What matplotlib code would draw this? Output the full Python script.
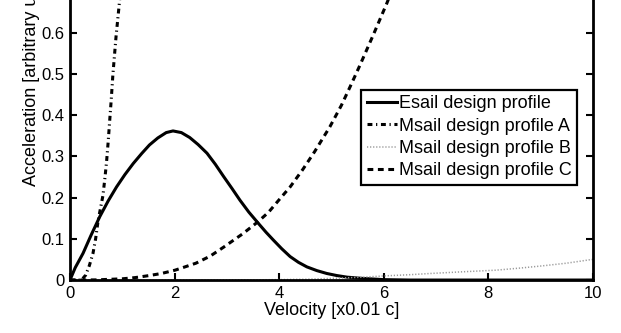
import numpy as np
import matplotlib.pyplot as plt

plt.rcParams["font.family"] = ["Liberation Sans", "DejaVu Sans"]

# velocity in units of 0.01 c, acceleration in arbitrary units
v_esail = [0.0, 0.1, 0.25, 0.4, 0.57, 0.73, 0.89, 1.05, 1.21, 1.37, 1.52,
           1.68, 1.84, 1.97, 2.13, 2.29, 2.45, 2.62, 2.78, 2.94, 3.10, 3.25,
           3.42, 3.60, 3.75, 3.89, 4.05, 4.21, 4.37, 4.53, 4.72, 4.91, 5.10,
           5.30, 5.60, 6.0, 6.5, 8.0, 10.0]
a_esail = [0.0, 0.03, 0.065, 0.108, 0.154, 0.192, 0.226, 0.256, 0.283, 0.307,
           0.328, 0.345, 0.358, 0.362, 0.358, 0.346, 0.329, 0.308, 0.281,
           0.251, 0.222, 0.194, 0.165, 0.138, 0.116, 0.097, 0.076, 0.057,
           0.043, 0.032, 0.023, 0.016, 0.011, 0.007, 0.004, 0.001, 0.0, 0.0,
           0.0]

v_msail_a = [0.0, 0.22, 0.30, 0.37, 0.44, 0.49, 0.54, 0.58, 0.63, 0.67, 0.70,
             0.73, 0.76, 0.79, 0.82, 0.88, 0.95, 1.05, 1.15, 1.25]
a_msail_a = [0.0, 0.0, 0.012, 0.035, 0.065, 0.10, 0.146, 0.172, 0.205, 0.25,
             0.288, 0.335, 0.388, 0.44, 0.498, 0.59, 0.68, 0.82, 0.96, 1.10]

v_msail_b = [0.0, 1.0, 2.0, 3.0, 4.0, 4.5, 5.0, 5.6, 6.0, 6.5, 6.9, 7.5,
             8.15, 8.6, 9.0, 9.5, 9.93, 10.0]
a_msail_b = [0.0, 0.0, 0.0, 0.0, 0.001, 0.002, 0.004, 0.007, 0.010, 0.013,
             0.016, 0.020, 0.024, 0.029, 0.034, 0.041, 0.049, 0.050]

v_msail_c = [0.0, 0.5, 1.0, 1.25, 1.52, 1.75, 2.01, 2.2, 2.41, 2.68, 2.94,
             3.3, 3.6, 3.8, 4.02, 4.21, 4.45, 4.68, 4.97, 5.19, 5.36, 5.54,
             5.8, 6.06, 6.3, 6.6, 6.9, 7.1]
a_msail_c = [0.0, 0.0004, 0.003, 0.006, 0.011, 0.016, 0.024, 0.032, 0.041,
             0.058, 0.080, 0.112, 0.142, 0.165, 0.198, 0.226, 0.268, 0.312,
             0.372, 0.424, 0.47, 0.52, 0.595, 0.672, 0.75, 0.86, 0.98, 1.05]

labels = ["Esail design profile", "Msail design profile A",
          "Msail design profile B", "Msail design profile C"]

fig = plt.figure(figsize=(6.21, 3.33), dpi=100)
ax = fig.add_axes([0.1127, 0.159, 0.842, 1.237])

ax.plot(v_esail, a_esail, '-', color='k', lw=2.2, label=labels[0])
ax.plot(v_msail_a, a_msail_a, color='k', lw=2.2,
        linestyle=(0, (1.6, 1.2, 0.4, 1.2)), label=labels[1])
ax.plot(v_msail_b, a_msail_b, color='#9a9a9a', lw=1.1,
        linestyle=(0, (0.8, 1.2)), label=labels[2])
ax.plot(v_msail_c, a_msail_c, color='k', lw=2.2,
        linestyle=(0, (1.9, 1.5)), label=labels[3])

ax.set_xlim(0, 10)
ax.set_ylim(0, 1)
ax.set_xticks(np.arange(0, 11, 2))
ax.set_yticks(np.arange(0, 1.01, 0.1))
ax.set_yticklabels(['0'] + ['%.1f' % t for t in np.arange(0.1, 1.01, 0.1)])
ax.tick_params(direction='in', length=5, width=1.5, labelsize=12,
               top=True, right=True, pad=4)
for s in ax.spines.values():
    s.set_linewidth(2)

ax.set_xlabel('Velocity [x0.01 c]', fontsize=13, labelpad=1)
ax.set_ylabel('Acceleration [arbitrary units]', fontsize=13, labelpad=1)

leg = ax.legend(loc='upper left', bbox_to_anchor=(0.557, 0.462),
                fontsize=13, handlelength=1.7, handletextpad=0.1,
                borderpad=0.3, labelspacing=0.3, borderaxespad=0,
                fancybox=False, framealpha=1, edgecolor='k')
leg.get_frame().set_linewidth(1.6)

fig.savefig('out.png', dpi=100)
